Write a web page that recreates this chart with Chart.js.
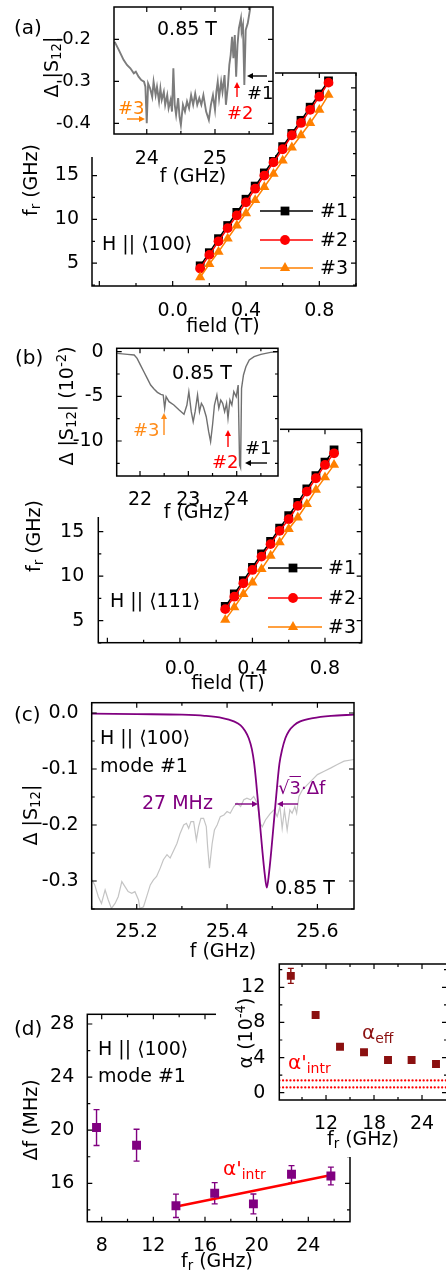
<!DOCTYPE html>
<html lang="en">
<head>
  <meta charset="UTF-8">
  <title>Resonance modes, linewidth and damping</title>
  <style>
    html, body { margin: 0; padding: 0; background: #fff; }
    body {
      width: 446px; height: 1276px; position: relative; overflow: hidden;
      font-family: 'DejaVu Sans', sans-serif; color: #000;
    }
    canvas { position: absolute; }
    #arrows { position: absolute; left: 0; top: 0; }
    .t, .c, .r { position: absolute; font-size: 19px; line-height: 1; white-space: nowrap; }
    .t { transform: translateY(-50%); }
    .c { transform: translate(-50%, -50%); }
    .r { transform: translate(-50%, -50%) rotate(-90deg); }
    sub { font-size: 0.7em; vertical-align: -0.3em; line-height: 0; }
    sup { font-size: 0.7em; vertical-align: 0.5em; line-height: 0; }
    .ov { text-decoration: overline; }
  </style>
</head>
<body>
  <canvas id="aMain"></canvas>
  <canvas id="aInset"></canvas>
  <canvas id="bMain"></canvas>
  <canvas id="bInset"></canvas>
  <canvas id="cMain"></canvas>
  <canvas id="dMain"></canvas>
  <canvas id="dInset"></canvas>
  <svg id="arrows" width="446" height="1276"></svg>

  <!-- (a) -->
  <div class="t" style="left:14px;top:27px;font-size:20px">(a)</div>
  <div class="r" style="left:51px;top:67px">&Delta; |S<sub>12</sub>|</div>
  <div class="t" style="left:157px;top:28px">0.85 T</div>
  <div class="t" style="left:118px;top:108px;color:#ff8000;font-size:18px">#3</div>
  <div class="t" style="left:227px;top:113px;color:#ff0000;font-size:18px">#2</div>
  <div class="t" style="left:247px;top:93px;font-size:18px">#1</div>
  <div class="c" style="left:193px;top:175px">f (GHz)</div>
  <div class="r" style="left:30px;top:180px">f<sub>r</sub> (GHz)</div>
  <div class="t" style="left:102px;top:243px">H || &#10216;100&#10217;</div>
  <div class="c" style="left:223px;top:325px">field (T)</div>

  <!-- (b) -->
  <div class="t" style="left:15px;top:357px;font-size:20px">(b)</div>
  <div class="r" style="left:66px;top:406px">&Delta; |S<sub>12</sub>| (10<sup>-2</sup>)</div>
  <div class="t" style="left:172px;top:372px">0.85 T</div>
  <div class="t" style="left:133px;top:430px;color:#ff8c1a;font-size:18px">#3</div>
  <div class="t" style="left:212px;top:462px;color:#ff0000;font-size:18px">#2</div>
  <div class="t" style="left:245px;top:448px;font-size:18px">#1</div>
  <div class="c" style="left:197px;top:511px">f (GHz)</div>
  <div class="r" style="left:33px;top:536px">f<sub>r</sub> (GHz)</div>
  <div class="t" style="left:110px;top:600px">H || &#10216;111&#10217;</div>
  <div class="c" style="left:228px;top:682px">field (T)</div>

  <!-- (c) -->
  <div class="t" style="left:14px;top:714px;font-size:20px">(c)</div>
  <div class="r" style="left:30px;top:815px">&Delta; |S<sub>12</sub>|</div>
  <div class="t" style="left:100px;top:737px">H || &#10216;100&#10217;</div>
  <div class="t" style="left:100px;top:765px">mode #1</div>
  <div class="t" style="left:142px;top:802px;color:#800080">27 MHz</div>
  <div class="t" style="left:278px;top:788px;color:#800080;font-size:18px">&radic;<span class="ov">3</span>&middot;&Delta;f</div>
  <div class="t" style="left:275px;top:887px">0.85 T</div>
  <div class="c" style="left:223px;top:950px">f (GHz)</div>

  <!-- (d) -->
  <div class="t" style="left:14px;top:1028px;font-size:20px">(d)</div>
  <div class="t" style="left:98px;top:1048px">H || &#10216;100&#10217;</div>
  <div class="t" style="left:98px;top:1075px">mode #1</div>
  <div class="r" style="left:30px;top:1120px">&Delta;f (MHz)</div>
  <div class="t" style="left:223px;top:1168px;color:#ff0000;font-size:20px">&alpha;'<sub>intr</sub></div>
  <div class="c" style="left:217px;top:1260px">f<sub>r</sub> (GHz)</div>
  <div class="r" style="left:245px;top:1033px">&alpha; (10<sup>-4</sup>)</div>
  <div class="t" style="left:362px;top:1032px;color:#8b1010;font-size:20px">&alpha;<sub>eff</sub></div>
  <div class="t" style="left:288px;top:1062px;color:#ff0000;font-size:20px">&alpha;'<sub>intr</sub></div>
  <div class="c" style="left:363px;top:1138px">f<sub>r</sub> (GHz)</div>

  <script src="https://cdn.jsdelivr.net/npm/chart.js"></script>
  <script>
    // ---- data ----
    // (a) H || <100>
    const fieldA = [0.15, 0.20, 0.25, 0.30, 0.35, 0.40, 0.45, 0.50, 0.55, 0.60, 0.65, 0.70, 0.75, 0.80, 0.85];
    const aMode1 = [4.7, 6.2, 7.8, 9.3, 10.8, 12.3, 13.8, 15.3, 16.8, 18.3, 19.8, 21.3, 22.8, 24.3, 25.8];
    const aMode2 = [4.4, 5.95, 7.5, 9.0, 10.45, 11.95, 13.5, 15.0, 16.5, 18.0, 19.6, 21.0, 22.5, 24.0, 25.6];
    const aMode3 = [3.4, 4.9, 6.3, 7.8, 9.3, 10.7, 12.2, 13.7, 15.2, 16.7, 18.2, 19.6, 21.0, 22.5, 24.2];

    // (a) inset, spectrum at 0.85 T
    const insetAFreq = [23.53, 23.59, 23.66, 23.71, 23.76, 23.81, 23.84, 23.88, 23.92, 23.96, 23.98, 24.00, 24.02, 24.05, 24.08, 24.10, 24.13, 24.15, 24.18, 24.20, 24.22, 24.25, 24.27, 24.30, 24.32, 24.35, 24.37, 24.39, 24.41, 24.43, 24.46, 24.48, 24.50, 24.53, 24.56, 24.59, 24.62, 24.65, 24.68, 24.71, 24.74, 24.77, 24.80, 24.83, 24.87, 24.91, 24.94, 24.97, 25.00, 25.02, 25.04, 25.06, 25.09, 25.11, 25.14, 25.16, 25.19, 25.21, 25.23, 25.25, 25.27, 25.29, 25.31, 25.33, 25.35, 25.38, 25.39, 25.41, 25.43, 25.45, 25.48, 25.52];
    const insetAVal = [-0.206, -0.225, -0.249, -0.261, -0.269, -0.281, -0.277, -0.289, -0.297, -0.301, -0.313, -0.400, -0.305, -0.317, -0.337, -0.301, -0.333, -0.313, -0.348, -0.317, -0.344, -0.325, -0.356, -0.333, -0.364, -0.344, -0.372, -0.269, -0.356, -0.380, -0.340, -0.384, -0.404, -0.356, -0.372, -0.348, -0.364, -0.333, -0.356, -0.329, -0.356, -0.340, -0.356, -0.333, -0.372, -0.392, -0.356, -0.333, -0.368, -0.325, -0.301, -0.340, -0.301, -0.325, -0.285, -0.356, -0.309, -0.261, -0.237, -0.194, -0.245, -0.190, -0.289, -0.213, -0.174, -0.150, -0.182, -0.166, -0.309, -0.178, -0.162, -0.122];

    // (b) H || <111>
    const fieldB = [0.25, 0.30, 0.35, 0.40, 0.45, 0.50, 0.55, 0.60, 0.65, 0.70, 0.75, 0.80, 0.85];
    const bMode1 = [6.6, 8.0, 9.5, 11.0, 12.5, 13.9, 15.4, 16.8, 18.3, 19.8, 21.3, 22.8, 24.2];
    const bMode2 = [6.3, 7.7, 9.2, 10.7, 12.2, 13.6, 15.1, 16.4, 17.9, 19.5, 21.0, 22.5, 23.8];
    const bMode3 = [5.1, 6.5, 8.0, 9.3, 10.8, 12.3, 13.8, 15.3, 16.6, 18.1, 19.7, 21.1, 22.5];

    // (b) inset, spectrum at 0.85 T (units of 1e-2)
    const insetBFreq = [21.53, 21.74, 21.88, 21.94, 22.01, 22.08, 22.15, 22.22, 22.29, 22.36, 22.43, 22.48, 22.51, 22.54, 22.60, 22.70, 22.81, 22.91, 22.97, 23.01, 23.06, 23.10, 23.14, 23.19, 23.23, 23.27, 23.31, 23.37, 23.42, 23.46, 23.50, 23.54, 23.59, 23.63, 23.67, 23.71, 23.75, 23.79, 23.82, 23.86, 23.90, 23.94, 23.99, 24.03, 24.06, 24.08, 24.10, 24.14, 24.19, 24.26, 24.36, 24.50, 24.70, 24.84];
    const insetBVal = [-0.19, -0.3, -0.37, -0.75, -1.5, -2.24, -2.99, -3.73, -4.18, -4.55, -4.78, -4.85, -6.34, -5.04, -5.6, -5.97, -6.53, -7.0, -5.97, -4.48, -6.72, -7.84, -6.72, -4.85, -6.72, -5.78, -6.16, -7.28, -8.96, -10.07, -8.21, -5.97, -4.85, -6.34, -5.41, -5.78, -6.72, -5.78, -7.46, -5.41, -5.97, -4.48, -5.04, -3.73, -12.69, -13.0, -4.1, -2.61, -1.68, -0.93, -0.56, -0.3, -0.07, 0];

    // (c) measured trace (grey) and fitted resonance (purple)
    const cGrayFreq = [25.101, 25.107, 25.115, 25.122, 25.130, 25.137, 25.144, 25.152, 25.159, 25.167, 25.174, 25.181, 25.189, 25.196, 25.204, 25.207, 25.215, 25.222, 25.230, 25.237, 25.244, 25.252, 25.259, 25.267, 25.274, 25.281, 25.289, 25.296, 25.304, 25.310, 25.315, 25.320, 25.326, 25.332, 25.337, 25.342, 25.348, 25.354, 25.357, 25.361, 25.367, 25.372, 25.378, 25.385, 25.393, 25.400, 25.407, 25.415, 25.422, 25.430, 25.437, 25.444, 25.452, 25.459, 25.467, 25.473, 25.478, 25.485, 25.495, 25.504, 25.511, 25.517, 25.522, 25.527, 25.533, 25.539, 25.544, 25.550, 25.554, 25.559, 25.567, 25.578, 25.589, 25.600, 25.615, 25.630, 25.644, 25.659, 25.681];
    const cGrayVal = [-0.298, -0.307, -0.328, -0.340, -0.316, -0.334, -0.349, -0.340, -0.328, -0.301, -0.310, -0.319, -0.322, -0.319, -0.334, -0.349, -0.346, -0.328, -0.307, -0.298, -0.292, -0.277, -0.262, -0.253, -0.259, -0.247, -0.233, -0.215, -0.200, -0.197, -0.206, -0.194, -0.194, -0.227, -0.203, -0.188, -0.188, -0.203, -0.239, -0.277, -0.233, -0.209, -0.200, -0.185, -0.182, -0.176, -0.179, -0.167, -0.161, -0.167, -0.155, -0.152, -0.155, -0.149, -0.161, -0.197, -0.203, -0.191, -0.180, -0.173, -0.185, -0.167, -0.206, -0.173, -0.209, -0.173, -0.179, -0.167, -0.179, -0.149, -0.137, -0.128, -0.119, -0.110, -0.104, -0.098, -0.092, -0.086, -0.083];
    const cFitFreq = [25.100, 25.200, 25.300, 25.350, 25.390, 25.415, 25.430, 25.440, 25.448, 25.455, 25.460, 25.464, 25.468, 25.473, 25.478, 25.483, 25.488, 25.493, 25.498, 25.503, 25.508, 25.512, 25.516, 25.522, 25.529, 25.537, 25.548, 25.562, 25.590, 25.630, 25.681];
    const cFitVal = [-0.001, -0.002, -0.003, -0.005, -0.009, -0.015, -0.022, -0.032, -0.045, -0.065, -0.090, -0.120, -0.155, -0.200, -0.245, -0.285, -0.312, -0.285, -0.245, -0.200, -0.155, -0.120, -0.090, -0.065, -0.045, -0.032, -0.022, -0.015, -0.009, -0.005, -0.003];

    // (d) linewidth and damping of mode #1
    const dFr = [7.6, 10.7, 13.75, 16.75, 19.75, 22.7, 25.75];
    const dWidth = [20.2, 18.87, 14.31, 15.25, 14.45, 16.68, 16.55];
    const dWidthErr = [1.35, 1.2, 0.88, 0.8, 0.75, 0.65, 0.67];
    const dFitFr = [13.7, 25.8];
    const dFitWidth = [14.24, 16.62];
    const dAlpha = [13.3, 8.85, 5.23, 4.6, 3.72, 3.72, 3.26];
    const dAlphaErr = [0.85, 0.3, 0.2, 0.15, 0.15, 0.15, 0.15];
    const alphaIntrBand = [1.4, 0.6];

    // tick values and labels
    const fieldTicks = [-0.4, 0, 0.4, 0.8];
    const fieldLabels = ['', '0.0', '0.4', '0.8'];
    const fieldMinor = [-0.2, 0.2, 0.6, 1.0];
    const frTicks = [5, 10, 15, 20, 25];
    const frLabels = ['5', '10', '15', '20', '25'];
    const frMinor = [2.5, 7.5, 12.5, 17.5, 22.5];
    const aInsXTicks = [24, 25], aInsXLabels = ['24', '25'], aInsXMinor = [23.5, 24.5, 25.5];
    const aInsYTicks = [-0.2, -0.3, -0.4], aInsYLabels = ['-0.2', '-0.3', '-0.4'];
    const bInsXTicks = [22, 23, 24], bInsXLabels = ['22', '23', '24'], bInsXMinor = [21.5, 22.5, 23.5, 24.5];
    const bInsYTicks = [0, -5, -10], bInsYLabels = ['0', '-5', '-10'], bInsYMinor = [-2.5, -7.5, -12.5];
    const cXTicks = [25.2, 25.4, 25.6], cXLabels = ['25.2', '25.4', '25.6'], cXMinor = [25.1, 25.3, 25.5];
    const cYTicks = [0, -0.1, -0.2, -0.3], cYLabels = ['0.0', '-0.1', '-0.2', '-0.3'], cYMinor = [-0.05, -0.15, -0.25, -0.35];
    const dXTicks = [8, 12, 16, 20, 24], dXLabels = ['8', '12', '16', '20', '24'], dXMinor = [10, 14, 18, 22, 26];
    const dYTicks = [16, 20, 24, 28], dYLabels = ['16', '20', '24', '28'], dYMinor = [14, 18, 22, 26];
    const dInsXTicks = [12, 18, 24], dInsXLabels = ['12', '18', '24'], dInsXMinor = [9, 15, 21];
    const dInsYTicks = [0, 4, 8, 12], dInsYLabels = ['0', '4', '8', '12'], dInsYMinor = [2, 6, 10, 14];

    // ---- drawing ----
    const FONT = "'DejaVu Sans', sans-serif";
    Chart.defaults.font.family = FONT;
    Chart.defaults.font.size = 19;
    Chart.defaults.color = '#000';
    Chart.defaults.animation = false;
    Chart.defaults.events = [];
    Chart.defaults.plugins.legend.display = false;
    Chart.defaults.plugins.tooltip.enabled = false;

    const pts = (xs, ys) => xs.map((x, i) => ({ x: x, y: ys[i] }));

    function drawMarker(ctx, style, x, y, r, color) {
      ctx.fillStyle = color;
      ctx.beginPath();
      if (style === 'rect') {
        const s = r * Math.SQRT1_2;
        ctx.rect(x - s, y - s, 2 * s, 2 * s);
      } else if (style === 'triangle') {
        let a = 0;
        ctx.moveTo(x + Math.sin(a) * r, y - Math.cos(a) * r);
        a += 2 * Math.PI / 3; ctx.lineTo(x + Math.sin(a) * r, y - Math.cos(a) * r);
        a += 2 * Math.PI / 3; ctx.lineTo(x + Math.sin(a) * r, y - Math.cos(a) * r);
        ctx.closePath();
      } else {
        ctx.arc(x, y, r, 0, Math.PI * 2);
      }
      ctx.fill();
    }

    // box with inward ticks on all four sides
    const framePlugin = {
      id: 'frame',
      afterDraw(chart, args, o) {
        if (!o || !o.xMajor) return;
        const { ctx, chartArea: a } = chart;
        const x = chart.scales.x, y = chart.scales.y;
        ctx.save();
        ctx.strokeStyle = '#000';
        ctx.lineWidth = 1.5;
        ctx.strokeRect(a.left, a.top, a.right - a.left, a.bottom - a.top);
        ctx.lineWidth = 1.2;
        ctx.beginPath();
        const xm = (vals, len) => vals.forEach(v => {
          const p = x.getPixelForValue(v);
          if (p < a.left - 0.5 || p > a.right + 0.5) return;
          ctx.moveTo(p, a.bottom); ctx.lineTo(p, a.bottom - len);
          ctx.moveTo(p, a.top); ctx.lineTo(p, a.top + len);
        });
        const ym = (vals, len) => vals.forEach(v => {
          const p = y.getPixelForValue(v);
          if (p < a.top - 0.5 || p > a.bottom + 0.5) return;
          ctx.moveTo(a.left, p); ctx.lineTo(a.left + len, p);
          ctx.moveTo(a.right, p); ctx.lineTo(a.right - len, p);
        });
        xm(o.xMajor, 5); xm(o.xMinor || [], 3);
        ym(o.yMajor, 5); ym(o.yMinor || [], 3);
        ctx.stroke();
        ctx.restore();
      }
    };

    // vertical error bars from dataset.errors
    const errorBarPlugin = {
      id: 'errorBars',
      beforeDatasetsDraw(chart) {
        const ctx = chart.ctx, y = chart.scales.y;
        chart.data.datasets.forEach((ds, i) => {
          if (!ds.errors) return;
          const meta = chart.getDatasetMeta(i);
          ctx.save();
          ctx.strokeStyle = ds.borderColor;
          ctx.lineWidth = 1.4;
          ctx.beginPath();
          meta.data.forEach((el, j) => {
            const v = ds.data[j].y, e = ds.errors[j];
            const top = y.getPixelForValue(v + e), bot = y.getPixelForValue(v - e);
            ctx.moveTo(el.x, top); ctx.lineTo(el.x, bot);
            ctx.moveTo(el.x - 3, top); ctx.lineTo(el.x + 3, top);
            ctx.moveTo(el.x - 3, bot); ctx.lineTo(el.x + 3, bot);
          });
          ctx.stroke();
          ctx.restore();
        });
      }
    };
    Chart.register(framePlugin, errorBarPlugin);

    function whiteFill(box, r) {
      return {
        id: 'whiteFill',
        beforeDraw(chart) {
          const ctx = chart.ctx;
          ctx.save();
          ctx.fillStyle = '#fff';
          ctx.fillRect(r.x0 - box.l, r.y0 - box.t, r.x1 - r.x0, r.y1 - r.y0);
          ctx.restore();
        }
      };
    }

    function legendInside(box, lg) {
      return {
        id: 'inLegend',
        afterDatasetsDraw(chart) {
          const ctx = chart.ctx;
          ctx.save();
          chart.data.datasets.forEach((ds, i) => {
            const y = lg.ys[i] - box.t;
            ctx.strokeStyle = ds.borderColor;
            ctx.lineWidth = 1.5;
            ctx.beginPath();
            ctx.moveTo(lg.x1 - box.l, y); ctx.lineTo(lg.x2 - box.l, y);
            ctx.stroke();
            drawMarker(ctx, ds.pointStyle, lg.xm - box.l, y, ds.pointRadius, ds.borderColor);
            ctx.fillStyle = '#000';
            ctx.font = '19px ' + FONT;
            ctx.textBaseline = 'middle';
            ctx.fillText(ds.label, lg.xl - box.l, y + 1);
          });
          ctx.restore();
        }
      };
    }

    function axis(min, max, ticks, labels, isX, pad, size, fontSize) {
      return {
        type: 'linear', min: min, max: max,
        grid: { display: false },
        border: { display: false },
        afterBuildTicks: s => { s.ticks = ticks.map(v => ({ value: v })); },
        afterFit: s => { if (isX) s.height = size; else s.width = size; },
        ticks: { autoSkip: false, maxRotation: 0, padding: pad, font: { size: fontSize || 19 },
                 callback: (v, i) => labels[i] }
      };
    }

    // box = canvas rectangle, plot = chart area, both in page pixels
    function makeChart(id, box, plot, sx, sy, datasets, frame, plugins) {
      const c = document.getElementById(id);
      c.width = box.r - box.l;
      c.height = box.b - box.t;
      c.style.left = box.l + 'px';
      c.style.top = box.t + 'px';
      c.style.width = c.width + 'px';
      c.style.height = c.height + 'px';
      return new Chart(c, {
        type: 'line',
        data: { datasets: datasets },
        options: {
          responsive: false,
          layout: { padding: { left: 0, top: plot.t - box.t, right: box.r - plot.r, bottom: 0 } },
          scales: {
            x: axis(sx.min, sx.max, sx.ticks, sx.labels, true, sx.pad, box.b - plot.b, sx.fs),
            y: axis(sy.min, sy.max, sy.ticks, sy.labels, false, sy.pad, plot.l - box.l, sy.fs)
          },
          plugins: { frame: frame }
        },
        plugins: plugins || []
      });
    }

    function modeSet(label, xs, ys, color, style, r, order) {
      return {
        label: label, data: pts(xs, ys), borderColor: color, backgroundColor: color,
        borderWidth: 1.5, pointStyle: style, pointRadius: r, pointBorderWidth: 0,
        pointBackgroundColor: color, order: order
      };
    }
    function trace(xs, ys, color, w) {
      return { data: pts(xs, ys), borderColor: color, borderWidth: w, pointRadius: 0, clip: 0, tension: 0 };
    }

    // (a) main
    const aBox = { l: 0, t: 40, r: 380, b: 320 };
    makeChart('aMain', aBox, { l: 92, t: 73, r: 356, b: 286 },
      { min: -0.44, max: 1.0, ticks: fieldTicks, labels: fieldLabels, pad: 6 },
      { min: 2.4, max: 26.7, ticks: frTicks, labels: frLabels, pad: 5 },
      [modeSet('#1', fieldA, aMode1, '#000000', 'rect', 6.2, 3),
       modeSet('#2', fieldA, aMode2, '#ff0000', 'circle', 4.9, 2),
       modeSet('#3', fieldA, aMode3, '#ff8000', 'triangle', 5.9, 1)],
      { xMajor: fieldTicks, xMinor: fieldMinor, yMajor: frTicks, yMinor: frMinor },
      [legendInside(aBox, { x1: 260, x2: 313, xm: 285, xl: 320, ys: [211, 240, 268] })]);

    // (a) inset
    const aiBox = { l: 40, t: -30, r: 290, b: 190 };
    makeChart('aInset', aiBox, { l: 114, t: 7, r: 273, b: 134 },
      { min: 23.52, max: 25.85, ticks: aInsXTicks, labels: aInsXLabels, pad: 6 },
      { min: -0.4255, max: -0.123, ticks: aInsYTicks, labels: aInsYLabels, pad: 15, fs: 18 },
      [trace(insetAFreq, insetAVal, '#7c7c7c', 1.9)],
      { xMajor: aInsXTicks, xMinor: aInsXMinor, yMajor: aInsYTicks, yMinor: [] },
      [whiteFill(aiBox, { x0: 40, y0: -30, x1: 275, y1: 157 })]);

    // (b) main
    const bBox = { l: 0, t: 400, r: 380, b: 680 };
    makeChart('bMain', bBox, { l: 98.3, t: 429.3, r: 361.7, b: 642.7 },
      { min: -0.45, max: 1.0025, ticks: fieldTicks, labels: fieldLabels, pad: 7 },
      { min: 2.53, max: 26.5, ticks: frTicks, labels: frLabels, pad: 6 },
      [modeSet('#1', fieldB, bMode1, '#000000', 'rect', 6.2, 3),
       modeSet('#2', fieldB, bMode2, '#ff0000', 'circle', 4.9, 2),
       modeSet('#3', fieldB, bMode3, '#ff8000', 'triangle', 5.9, 1)],
      { xMajor: fieldTicks, xMinor: fieldMinor, yMajor: frTicks, yMinor: frMinor },
      [legendInside(bBox, { x1: 268, x2: 322, xm: 293, xl: 328, ys: [568, 598, 627] })]);

    // (b) inset
    const biBox = { l: 40, t: 310, r: 290, b: 540 };
    makeChart('bInset', biBox, { l: 116.7, t: 348.3, r: 278, b: 476 },
      { min: 21.518, max: 24.854, ticks: bInsXTicks, labels: bInsXLabels, pad: 5 },
      { min: -13.92, max: 0.38, ticks: bInsYTicks, labels: bInsYLabels, pad: 5 },
      [trace(insetBFreq, insetBVal, '#707070', 1.4)],
      { xMajor: bInsXTicks, xMinor: bInsXMinor, yMajor: bInsYTicks, yMinor: bInsYMinor },
      [whiteFill(biBox, { x0: 40, y0: 337, x1: 280, y1: 517 })]);

    // (c)
    makeChart('cMain', { l: 0, t: 670, r: 380, b: 965 }, { l: 91.7, t: 702.7, r: 354, b: 909 },
      { min: 25.1003, max: 25.681, ticks: cXTicks, labels: cXLabels, pad: 4 },
      { min: -0.350, max: 0.0184, ticks: cYTicks, labels: cYLabels, pad: 5 },
      [Object.assign(trace(cFitFreq, cFitVal, '#800080', 1.8), { cubicInterpolationMode: 'monotone' }),
       trace(cGrayFreq, cGrayVal, '#c4c4c4', 1.2)],
      { xMajor: cXTicks, xMinor: cXMinor, yMajor: cYTicks, yMinor: cYMinor });

    // (d) main
    makeChart('dMain', { l: 0, t: 980, r: 380, b: 1276 }, { l: 87.3, t: 1014.3, r: 350, b: 1221.7 },
      { min: 6.885, max: 27.23, ticks: dXTicks, labels: dXLabels, pad: 5 },
      { min: 13.11, max: 28.73, ticks: dYTicks, labels: dYLabels, pad: 5 },
      [{ data: pts(dFr, dWidth), errors: dWidthErr, showLine: false, borderColor: '#800080',
         pointStyle: 'rect', pointRadius: 6.3, pointBorderWidth: 0, pointBackgroundColor: '#800080', order: 1 },
       { data: pts(dFitFr, dFitWidth), borderColor: '#ff0000', borderWidth: 2.6, pointRadius: 0, order: 2 }],
      { xMajor: dXTicks, xMinor: dXMinor, yMajor: dYTicks, yMinor: dYMinor });

    // (d) inset
    const diBox = { l: 216, t: 930, r: 470, b: 1165 };
    const dxMin = 6.16, dxMax = 27.125;
    const dotted = v => ({ data: pts([dxMin, dxMax], [v, v]), borderColor: '#ff0000', borderWidth: 2.2,
      borderDash: [0.1, 3.6], borderCapStyle: 'round', pointRadius: 0, order: 2 });
    makeChart('dInset', diBox, { l: 279.3, t: 964, r: 447, b: 1100 },
      { min: dxMin, max: dxMax, ticks: dInsXTicks, labels: dInsXLabels, pad: 5 },
      { min: -0.83, max: 14.65, ticks: dInsYTicks, labels: dInsYLabels, pad: 6 },
      [{ data: pts(dFr, dAlpha), errors: dAlphaErr, showLine: false, borderColor: '#8b1010',
         pointStyle: 'rect', pointRadius: 5.6, pointBorderWidth: 0, pointBackgroundColor: '#8b1010', order: 1 },
       dotted(alphaIntrBand[0]), dotted(alphaIntrBand[1])],
      { xMajor: dInsXTicks, xMinor: dInsXMinor, yMajor: dInsYTicks, yMinor: dInsYMinor },
      [whiteFill(diBox, { x0: 216, y0: 960, x1: 470, y1: 1157 })]);

    // annotation arrows
    const svg = document.getElementById('arrows');
    function arrow(x1, y1, x2, y2, color) {
      const ang = Math.atan2(y2 - y1, x2 - x1), L = 6, W = 3;
      const bx = x2 - L * Math.cos(ang), by = y2 - L * Math.sin(ang);
      const sn = Math.sin(ang), cs = Math.cos(ang);
      svg.innerHTML += `<line x1="${x1}" y1="${y1}" x2="${bx}" y2="${by}" stroke="${color}" stroke-width="1.4"/>` +
        `<polygon points="${x2},${y2} ${bx + W * sn},${by - W * cs} ${bx - W * sn},${by + W * cs}" fill="${color}"/>`;
    }
    arrow(127, 119, 145, 119, '#ff8000');
    arrow(237, 97, 237, 82, '#ff0000');
    arrow(267, 76, 247, 76, '#000000');
    arrow(164, 435, 164, 413, '#ff8c1a');
    arrow(228, 447, 228, 430, '#ff0000');
    arrow(267, 463, 245, 463, '#000000');
    arrow(235, 804, 258, 804, '#800080');
    arrow(298, 804, 277, 804, '#800080');
  </script>
</body>
</html>
